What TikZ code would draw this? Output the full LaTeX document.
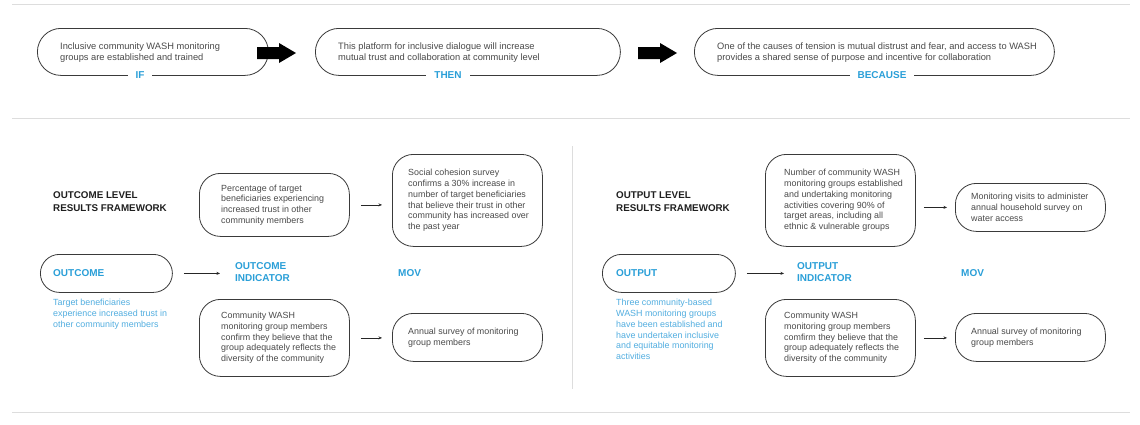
\documentclass[tikz,border=0pt]{standalone}
\usepackage{fontspec}
\setmainfont{Liberation Sans}
\usetikzlibrary{arrows.meta}
\definecolor{wblue}{HTML}{2A9FD8}
\definecolor{wlblue}{HTML}{52AEE0}
\definecolor{wtext}{HTML}{4A4A4A}
\definecolor{wline}{HTML}{3A3A3A}
\definecolor{wrule}{HTML}{DDDDDD}
\begin{document}
\begin{tikzpicture}[x=1pt,y=-1pt,
  pillbox/.style={draw=wline, line width=0.8pt, rounded corners=23.5pt, minimum height=47pt, inner sep=0pt, anchor=north west},
  rbox/.style={draw=wline, line width=0.8pt, rounded corners=21pt, minimum width=150pt, inner sep=0pt, anchor=north west},
  smallpill/.style={draw=wline, line width=0.8pt, rounded corners=19pt, minimum height=38pt, inner sep=0pt, anchor=north west},
  toptext/.style={anchor=west, align=left, inner sep=0pt, text=wtext, font=\fontsize{9.3}{11}\selectfont},
  boxtext/.style={anchor=west, align=left, inner sep=0pt, text=wtext, font=\fontsize{8.9}{10.7}\selectfont},
  toplabel/.style={fill=white, inner xsep=8pt, inner ysep=2pt, text=wblue, font=\fontsize{10}{12}\selectfont\bfseries},
  heading/.style={anchor=north west, align=left, inner sep=0pt, text=black!88, font=\fontsize{9.8}{12.8}\selectfont\bfseries},
  bluehead/.style={anchor=west, align=left, inner sep=0pt, text=wblue, font=\fontsize{10}{12}\selectfont\bfseries},
  bluepara/.style={anchor=north west, align=left, inner sep=0pt, text=wlblue, font=\fontsize{8.9}{10.7}\selectfont},
  blockarrow/.style={fill=black},
  conn/.style={draw=black!85, line width=0.6pt, -{Stealth[length=3.5pt,width=3pt]}},
  rule/.style={draw=wrule, line width=0.8pt}
]
\useasboundingbox[fill=white] (0,0) rectangle (1140,424);

% dividers
\coordinate (r1a) at (12,4); \coordinate (r1b) at (1130,4);
\coordinate (r2a) at (12,118); \coordinate (r2b) at (1130,118);
\coordinate (r3a) at (12,412); \coordinate (r3b) at (1130,412);
\coordinate (vta) at (572,146); \coordinate (vtb) at (572,389);
\draw[rule] (r1a) -- (r1b);
\draw[rule] (r2a) -- (r2b);
\draw[rule] (r3a) -- (r3b);
\draw[rule] (vta) -- (vtb);

% top row
\node[pillbox, minimum width=231pt] (p1) at (37,28) {};
\node[toptext] (p1t) at ([xshift=23pt,yshift=-0.5pt]p1.west) {Inclusive community WASH monitoring\\groups are established and trained};
\node[toplabel] (p1l) at (140,75) {IF};

\node[pillbox, minimum width=305pt] (p2) at (315,28) {};
\node[toptext] (p2t) at ([xshift=23pt,yshift=-0.5pt]p2.west) {This platform for inclusive dialogue will increase\\mutual trust and collaboration at community level};
\node[toplabel] (p2l) at (448,75) {THEN};

\node[pillbox, minimum width=360pt] (p3) at (694,28) {};
\node[toptext] (p3t) at ([xshift=23pt,yshift=-0.5pt]p3.west) {One of the causes of tension is mutual distrust and fear, and access to WASH\\provides a shared sense of purpose and incentive for collaboration};
\node[toplabel] (p3l) at (882,75) {BECAUSE};

% block arrows between the top pills
\coordinate (a1) at (257,53);
\coordinate (a2) at (638,53);
\fill[blockarrow] (a1) ++(0,-6) -- ++(22,0) -- ++(0,-4) -- ++(17,10) -- ++(-17,10) -- ++(0,-4) -- ++(-22,0) -- cycle;
\fill[blockarrow] (a2) ++(0,-6) -- ++(22,0) -- ++(0,-4) -- ++(17,10) -- ++(-17,10) -- ++(0,-4) -- ++(-22,0) -- cycle;

% ---------- outcome side
\node[heading] (h1) at (53,191.4) {OUTCOME LEVEL\\RESULTS FRAMEWORK};

\node[rbox, minimum height=63pt] (A) at (199,173) {};
\node[boxtext] (At) at ([xshift=22pt]A.west) {Percentage of target\\beneficiaries experiencing\\increased trust in other\\community members};

\node[rbox, minimum height=92pt] (B) at (392,154) {};
\node[boxtext] (Bt) at ([xshift=16pt]B.west) {Social cohesion survey\\confirms a 30\% increase in\\number of target beneficiaries\\that believe their trust in other\\community has increased over\\the past year};

\node[smallpill, minimum width=132pt] (oc) at (40,254) {};
\node[bluehead] (oct) at ([xshift=13pt]oc.west) {OUTCOME};
\node[bluepara] (ocp) at (53,299.3) {Target beneficiaries\\experience increased trust in\\other community members};

\node[bluehead] (oci) at (235,272) {OUTCOME\\INDICATOR};
\node[bluehead] (mov1) at (398,273) {MOV};

\node[rbox, minimum height=77pt] (C) at (199,299) {};
\node[boxtext] (Ct) at ([xshift=22pt]C.west) {Community WASH\\monitoring group members\\confirm they believe that the\\group adequately reflects the\\diversity of the community};

\node[rbox, minimum height=48pt] (D) at (392,313) {};
\node[boxtext] (Dt) at ([xshift=16pt]D.west) {Annual survey of monitoring\\group members};

\draw[conn, shorten <=11pt, shorten >=10pt] (A.east) -- (A.east -| B.west);
\draw[conn, shorten <=11pt, shorten >=10pt] (C.east) -- (C.east -| D.west);
\draw[conn, shorten <=11pt, shorten >=15pt] (oc.east) -- (oc.east -| oci.west);

% ---------- output side
\node[heading] (h2) at (616,191.4) {OUTPUT LEVEL\\RESULTS FRAMEWORK};

\node[rbox, minimum height=92pt] (E) at (765,154) {};
\node[boxtext] (Et) at ([xshift=19pt]E.west) {Number of community WASH\\monitoring groups established\\and undertaking monitoring\\activities covering 90\% of\\target areas, including all\\ethnic \& vulnerable groups};

\node[rbox, minimum height=48pt] (F) at (955,183) {};
\node[boxtext] (Ft) at ([xshift=16pt]F.west) {Monitoring visits to administer\\annual household survey on\\water access};

\node[smallpill, minimum width=133pt] (op) at (602,254) {};
\node[bluehead] (opt) at ([xshift=14pt]op.west) {OUTPUT};
\node[bluepara] (opp) at (616,299.3) {Three community-based\\WASH monitoring groups\\have been established and\\have undertaken inclusive\\and equitable monitoring\\activities};

\node[bluehead] (opi) at (797,272) {OUTPUT\\INDICATOR};
\node[bluehead] (mov2) at (961,273) {MOV};

\node[rbox, minimum height=77pt] (G) at (765,299) {};
\node[boxtext] (Gt) at ([xshift=19pt]G.west) {Community WASH\\monitoring group members\\comfirm they believe that the\\group adequately reflects the\\diversity of the community};

\node[rbox, minimum height=48pt] (H) at (955,313) {};
\node[boxtext] (Ht) at ([xshift=16pt]H.west) {Annual survey of monitoring\\group members};

\draw[conn, shorten <=8pt, shorten >=8pt] (F.west -| E.east) -- (F.west);
\draw[conn, shorten <=8pt, shorten >=8pt] (G.east) -- (G.east -| H.west);
\draw[conn, shorten <=11pt, shorten >=13pt] (op.east) -- (op.east -| opi.west);
\end{tikzpicture}
\end{document}
